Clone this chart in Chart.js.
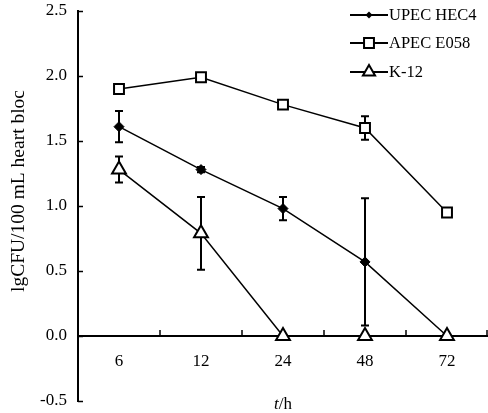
<!DOCTYPE html>
<html>
<head>
<meta charset="utf-8">
<script src="https://cdn.jsdelivr.net/npm/chart.js@4.4.1/dist/chart.umd.min.js"></script>
<style>
  html, body { margin: 0; padding: 0; background: #ffffff; }
  #wrap { width: 488px; height: 413px; }
</style>
</head>
<body>
<div id="wrap"><canvas id="c" width="488" height="413"></canvas></div>
<script>
// ---- data ----
const categories = ['6', '12', '24', '48', '72'];
const upecValues = [1.61, 1.28, 0.98, 0.57, 0];
const upecErrors = [0.12, 0.02, 0.09, 0.49, 0];
const apecValues = [1.90, 1.99, 1.78, 1.60, 0.95];
const apecErrors = [0.02, 0.03, 0.02, 0.09, 0.03];
const k12Values = [1.28, 0.79, 0, 0, 0];
const k12Errors = [0.10, 0.28, 0, 0, 0];
const seriesNames = ['UPEC HEC4', 'APEC E058', 'K-12'];
const yTickMin = -0.5, yTickMax = 2.5, yTickStep = 0.5;
const yTitle = 'lgCFU/100 mL heart bloc';

const SERIF = "'Liberation Serif', 'Times New Roman', serif";

const errorBarPlugin = {
  id: 'errorBars',
  beforeDatasetsDraw(chart) {
    const ctx = chart.ctx, x = chart.scales.x, y = chart.scales.y;
    ctx.save();
    ctx.strokeStyle = '#000';
    ctx.lineWidth = 2;
    chart.data.datasets.forEach(ds => {
      ds.data.forEach((v, i) => {
        const e = ds.errors[i];
        if (!e) return;
        const px = x.getPixelForValue(i);
        const top = y.getPixelForValue(v + e), bot = y.getPixelForValue(v - e);
        ctx.beginPath();
        ctx.moveTo(px, top); ctx.lineTo(px, bot);
        ctx.moveTo(px - 4, top); ctx.lineTo(px + 4, top);
        ctx.moveTo(px - 4, bot); ctx.lineTo(px + 4, bot);
        ctx.stroke();
      });
    });
    ctx.restore();
  }
};

function drawMarker(ctx, style, cx, cy, r) {
  ctx.beginPath();
  if (style === 'rectRot') {
    ctx.moveTo(cx, cy - r); ctx.lineTo(cx + r, cy); ctx.lineTo(cx, cy + r); ctx.lineTo(cx - r, cy); ctx.closePath();
    ctx.fillStyle = '#000'; ctx.fill();
  } else if (style === 'rect') {
    const s = r / Math.SQRT2;
    ctx.rect(cx - s, cy - s, 2 * s, 2 * s);
    ctx.fillStyle = '#fff'; ctx.fill(); ctx.lineWidth = 2; ctx.strokeStyle = '#000'; ctx.stroke();
  } else {
    ctx.moveTo(cx, cy - r);
    ctx.lineTo(cx + r * Math.sin(2 * Math.PI / 3), cy - r * Math.cos(2 * Math.PI / 3));
    ctx.lineTo(cx + r * Math.sin(4 * Math.PI / 3), cy - r * Math.cos(4 * Math.PI / 3));
    ctx.closePath();
    ctx.fillStyle = '#fff'; ctx.fill(); ctx.lineWidth = 2; ctx.strokeStyle = '#000'; ctx.stroke();
  }
}

const decorPlugin = {
  id: 'decor',
  afterDraw(chart) {
    const ctx = chart.ctx, xs = chart.scales.x, ys = chart.scales.y, area = chart.chartArea;
    ctx.save();
    ctx.strokeStyle = '#000';
    ctx.lineWidth = 1.5;
    // inward ticks on y axis
    ys.ticks.forEach(t => {
      const py = Math.round(ys.getPixelForValue(t.value)) + 0.5;
      ctx.beginPath(); ctx.moveTo(area.left, py); ctx.lineTo(area.left + 5, py); ctx.stroke();
    });
    // inward ticks on x axis at category boundaries
    const y0 = ys.getPixelForValue(0);
    for (let i = 0; i < categories.length; i++) {
      const px = Math.min(xs.getPixelForValue(i + 0.5), area.right - 1);
      ctx.beginPath(); ctx.moveTo(px, y0); ctx.lineTo(px, y0 - 6); ctx.stroke();
    }
    // legend
    const lx = 350, lw = 38;
    const rows = [15, 43, 72];
    chart.data.datasets.forEach((ds, k) => {
      const ly = rows[k];
      ctx.strokeStyle = '#000'; ctx.lineWidth = 2;
      ctx.beginPath(); ctx.moveTo(lx, ly); ctx.lineTo(lx + lw, ly); ctx.stroke();
      drawMarker(ctx, ds.pointStyle, lx + lw / 2, ly, ds.pointStyle === 'rectRot' ? 3.5 : 7);
      ctx.fillStyle = '#000';
      ctx.font = '16.5px ' + SERIF;
      ctx.textBaseline = 'middle';
      ctx.textAlign = 'left';
      ctx.fillText(ds.label, lx + lw + 1, ly + 1);
    });
    // x axis title "t/h"
    ctx.fillStyle = '#000';
    ctx.textBaseline = 'middle';
    ctx.textAlign = 'left';
    ctx.font = 'italic 17px ' + SERIF;
    const wt = ctx.measureText('t').width;
    ctx.font = '17px ' + SERIF;
    const wh = ctx.measureText('/h').width;
    const cx = (area.left + area.right) / 2;
    const sx = cx - (wt + wh) / 2;
    ctx.font = 'italic 17px ' + SERIF;
    ctx.fillText('t', sx, 405);
    ctx.font = '17px ' + SERIF;
    ctx.fillText('/h', sx + wt, 405);
    // y axis title
    ctx.translate(19, 191);
    ctx.rotate(-Math.PI / 2);
    ctx.textAlign = 'center';
    ctx.textBaseline = 'middle';
    ctx.font = '19.5px ' + SERIF;
    ctx.fillText(yTitle, 0, 0);
    ctx.restore();
  }
};

function makeDataset(label, values, errors, style, radius, order) {
  return {
    label: label,
    data: values,
    errors: errors,
    order: order,
    borderColor: '#000',
    borderWidth: 1.5,
    pointStyle: style,
    pointRadius: radius,
    pointHoverRadius: radius,
    pointBackgroundColor: style === 'rectRot' ? '#000' : '#fff',
    pointBorderColor: '#000',
    pointBorderWidth: style === 'rectRot' ? 1 : 2,
    fill: false,
    tension: 0,
    clip: false
  };
}

new Chart(document.getElementById('c'), {
  type: 'line',
  data: {
    labels: categories,
    datasets: [
      makeDataset(seriesNames[0], upecValues, upecErrors, 'rectRot', 5, 2),
      makeDataset(seriesNames[1], apecValues, apecErrors, 'rect', 7, 1),
      makeDataset(seriesNames[2], k12Values, k12Errors, 'triangle', 8, 0)
    ]
  },
  options: {
    responsive: false,
    devicePixelRatio: 1,
    animation: false,
    layout: { autoPadding: false, padding: { left: 0, right: 0, top: 11, bottom: 12 } },
    plugins: {
      legend: { display: false },
      tooltip: { enabled: false },
      title: { display: false }
    },
    scales: {
      x: {
        type: 'category',
        offset: true,
        position: { y: 0 },
        afterFit(s) { s.paddingLeft = 0; s.paddingRight = 0; },
        grid: { display: true, drawOnChartArea: false, drawTicks: false },
        border: { display: true, color: '#000', width: 2 },
        ticks: { color: '#000', padding: 15, font: { family: SERIF, size: 17 }, maxRotation: 0 }
      },
      y: {
        min: yTickMin,
        max: yTickMax,
        afterFit(s) { s.width = 78; s.paddingTop = 0; s.paddingBottom = 0; },
        grid: { display: true, drawOnChartArea: false, drawTicks: false },
        border: { display: true, color: '#000', width: 2 },
        ticks: {
          stepSize: yTickStep,
          color: '#000',
          padding: 11,
          font: { family: SERIF, size: 17 },
          callback: v => Number(v).toFixed(1)
        }
      }
    }
  },
  plugins: [errorBarPlugin, decorPlugin]
});
</script>
</body>
</html>
